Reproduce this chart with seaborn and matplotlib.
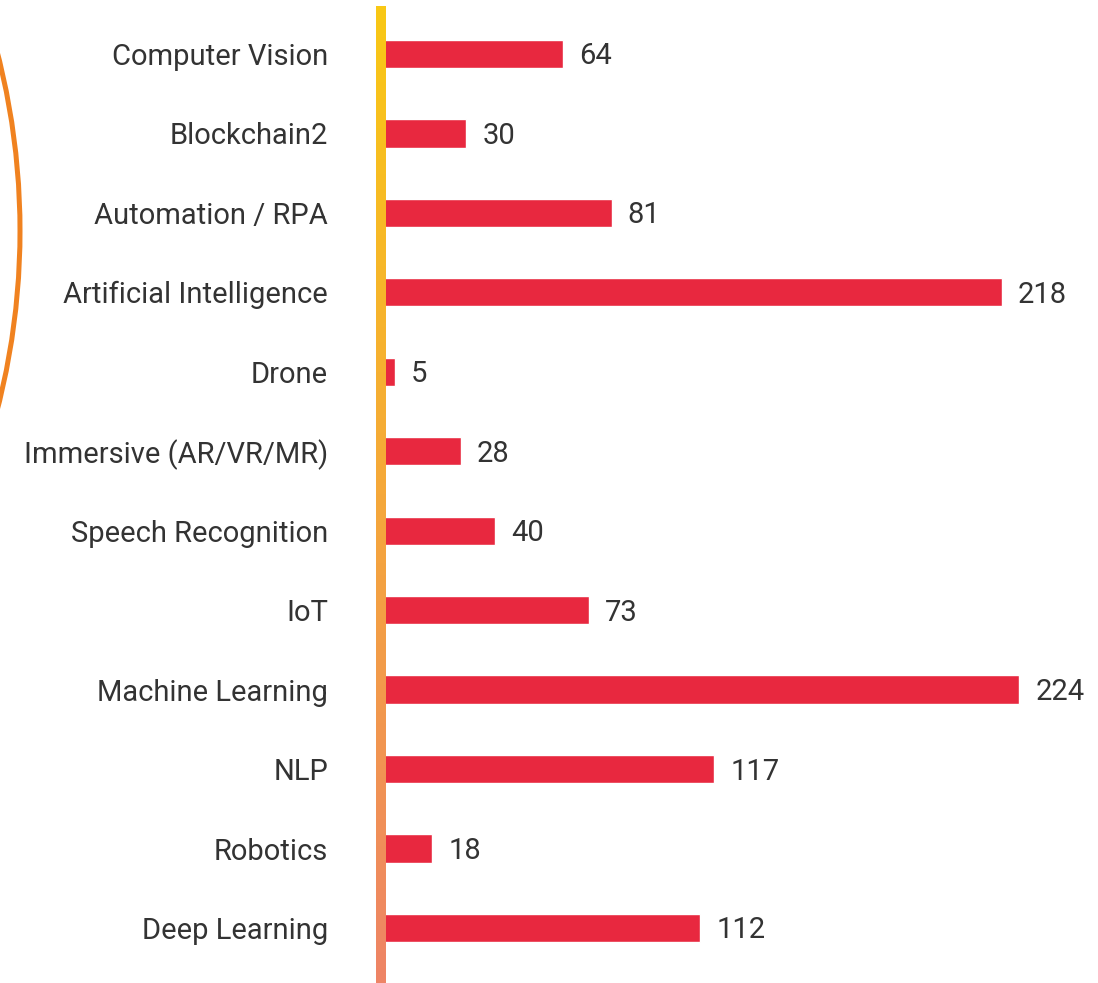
import numpy as np
import pandas as pd
import matplotlib
matplotlib.use("Agg")
import matplotlib.pyplot as plt
from matplotlib.patches import Arc
from matplotlib.colors import LinearSegmentedColormap
import seaborn as sns

categories = [
    "Computer Vision", "Blockchain2", "Automation / RPA", "Artificial Intelligence",
    "Drone", "Immersive (AR/VR/MR)", "Speech Recognition", "IoT",
    "Machine Learning", "NLP", "Robotics", "Deep Learning",
]
counts = [64, 30, 81, 218, 5, 28, 40, 73, 224, 117, 18, 112]

sns.set_theme(style="white")
plt.rcParams["font.family"] = ["Roboto", "DejaVu Sans"]

W, H = 1098, 983
fig = plt.figure(figsize=(W / 100, H / 100), dpi=100)

# main bar axes: zero sits at x=381 px, 2.849 px per unit
x0_px, scale = 381, 2.849
xmax = (W - x0_px) / scale
ax = fig.add_axes([x0_px / W, 0, 1 - x0_px / W, 1])

df = pd.DataFrame({"category": categories, "count": counts})
sns.barplot(data=df, y="category", x="count", orient="h", color="#E8283F",
            saturation=1, width=0.355, ax=ax, zorder=2)

row_px = 79.45
first_px = 54
ax.set_ylim((H - first_px) / row_px, -first_px / row_px)
ax.set_xlim(0, xmax)
ax.set_xticks([])
ax.set_xlabel("")
ax.set_ylabel("")
for s in ax.spines.values():
    s.set_visible(False)

fs = 21
ax.tick_params(axis="y", length=0, pad=38)
ax.set_yticks(range(len(categories)))
ax.set_yticklabels(categories, fontsize=fs, color="#333333")

for i, v in enumerate(counts):
    ax.text(v + 16 / scale, i + 2.5 / row_px, str(v), va="center", ha="left",
            fontsize=fs, color="#333333")

# vertical gradient axis line
lax = fig.add_axes([376 / W, 0, 10 / W, (H - 6) / H])
cmap = LinearSegmentedColormap.from_list(
    "axisgrad", ["#F9C815", "#F5A83A", "#EE8466"])
grad = np.linspace(0, 1, 256).reshape(-1, 1)
lax.imshow(grad, aspect="auto", cmap=cmap, extent=[0, 1, 1, 0])
lax.set_axis_off()

# decorative orange arc on the left
oax = fig.add_axes([0, 0, 1, 1], zorder=-1)
oax.set_xlim(0, W)
oax.set_ylim(H, 0)
oax.set_axis_off()
cx, cy, r = -695.6, 231, 715.6
oax.add_patch(Arc((cx, cy), 2 * r, 2 * r, theta1=-20, theta2=20,
                  color="#F08220", lw=3.6))

fig.savefig("out.png", dpi=100)
